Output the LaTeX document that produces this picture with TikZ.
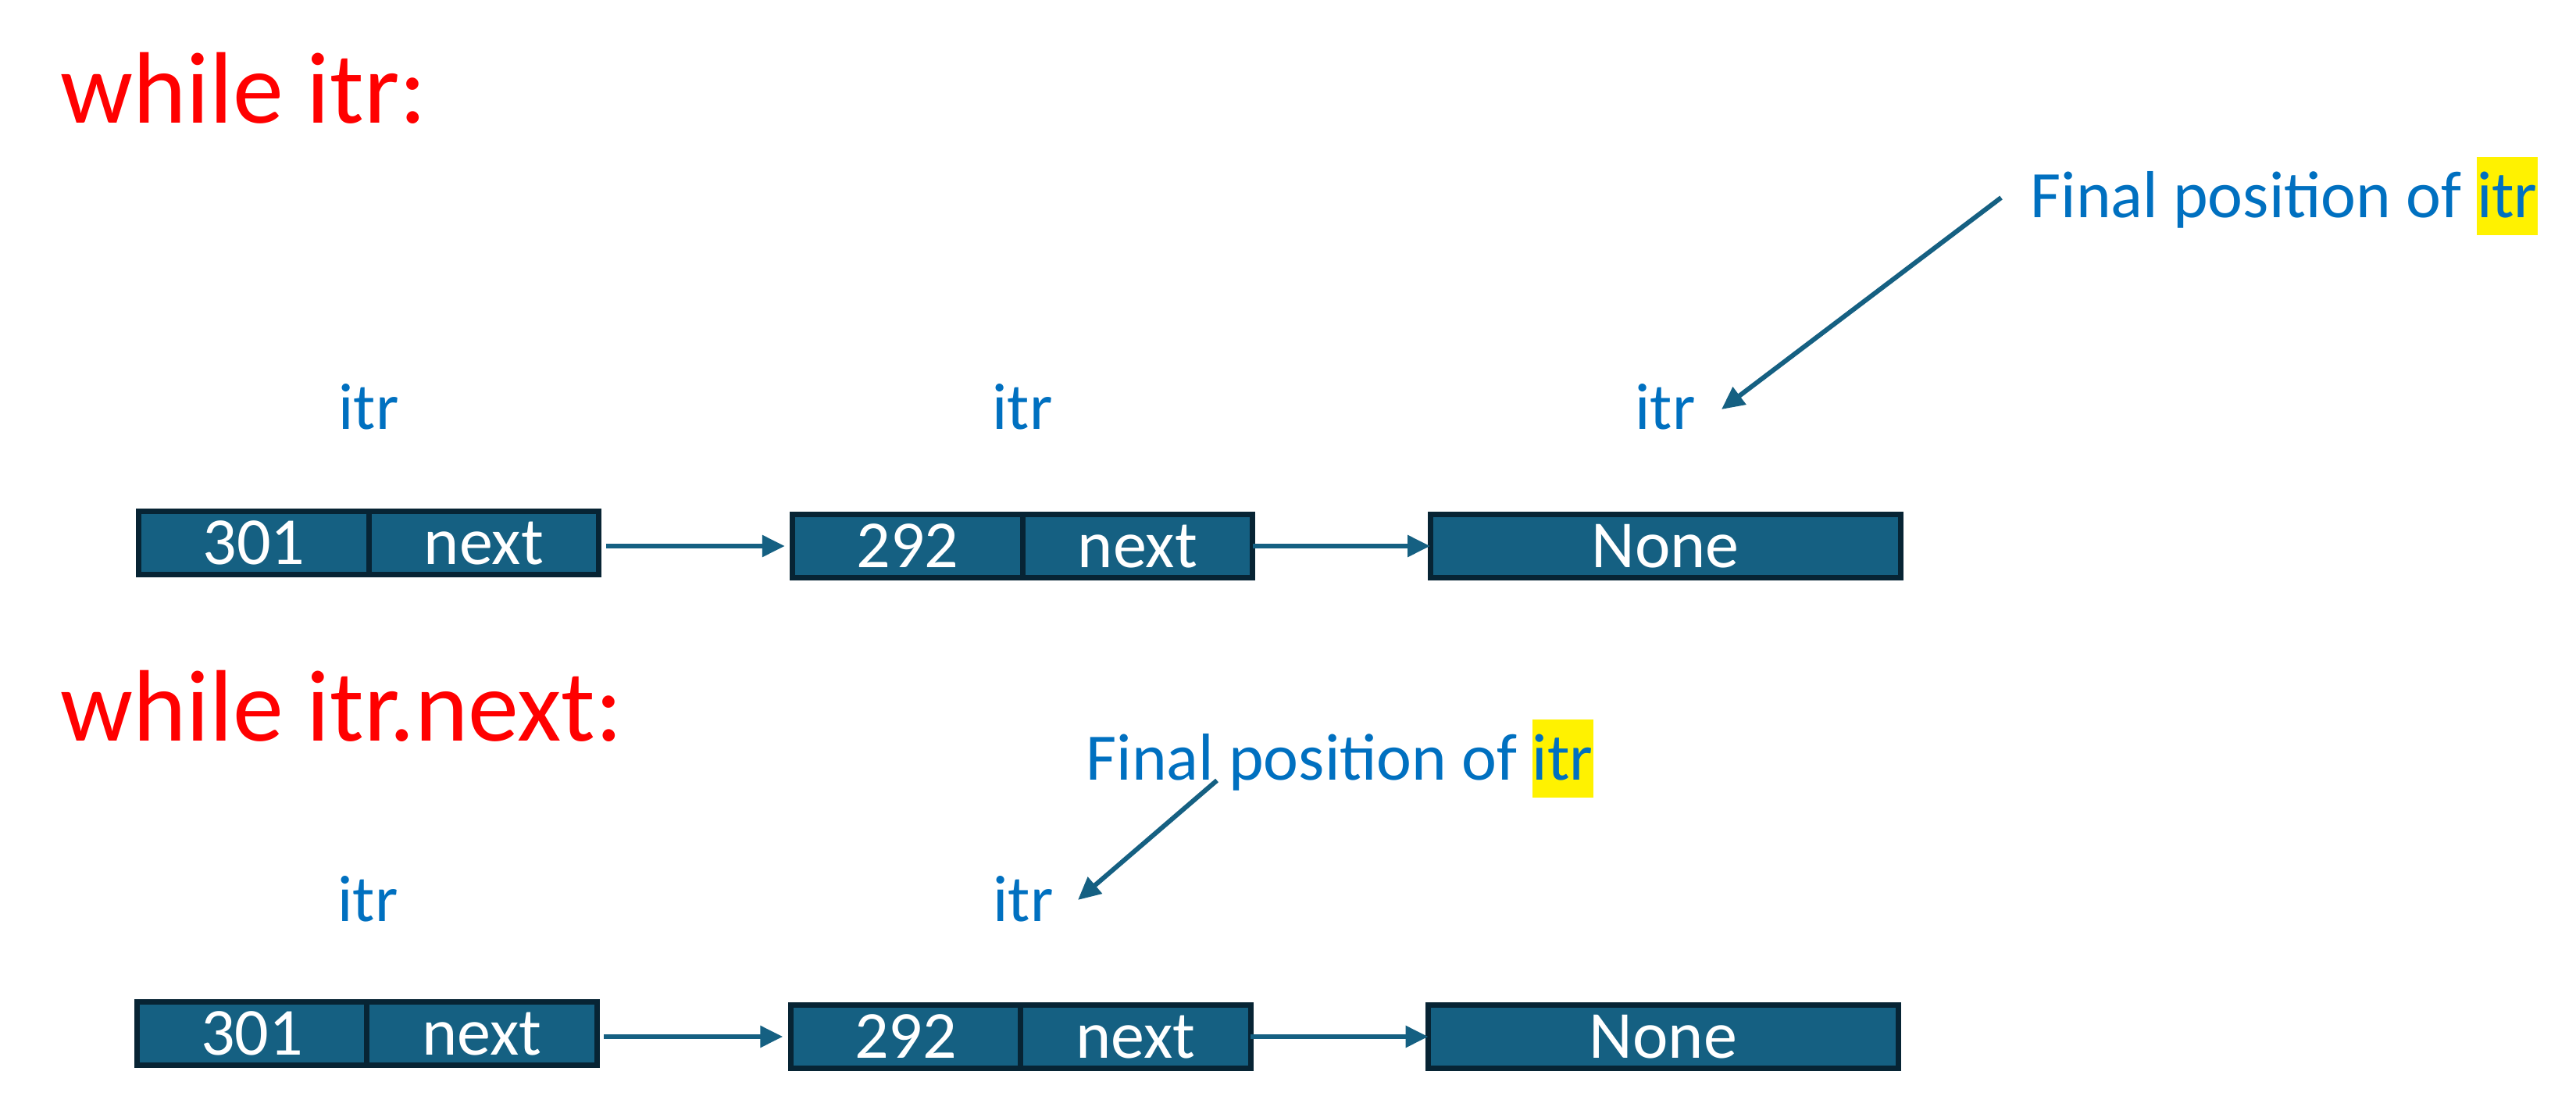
\documentclass[tikz,border=0pt]{standalone}
\usepackage{fontspec}
\setmainfont{Carlito}
\usetikzlibrary{arrows.meta,calc}

\definecolor{cellfill}{HTML}{156082}
\definecolor{cellline}{HTML}{072434}
\definecolor{itrblue}{HTML}{0070C0}

\newcommand{\hlitr}{{\setlength{\fboxsep}{0pt}\colorbox{yellow}{\rule[-6.5pt]{0pt}{28.5pt}itr}}}

\begin{document}
\begin{tikzpicture}[>={Triangle[length=0.29cm,width=0.27cm]},
	cell/.style={draw=cellline,fill=cellfill,line width=0.07cm,inner sep=0pt,outer sep=0pt,
		minimum height=0.81cm,text=white,font=\fontsize{24.5}{29}\selectfont,text height=15.4pt,text depth=0pt},
	half/.style={cell,minimum width=2.945cm},
	whole/.style={cell,minimum width=6.02cm},
	link/.style={->,draw=cellfill,line width=0.06cm},
	cond/.style={text=red,font=\fontsize{37}{44}\selectfont,inner sep=0pt,anchor=base west},
	ptr/.style={text=itrblue,font=\fontsize{24}{29}\selectfont,inner sep=0pt,anchor=base},
	note/.style={text=itrblue,font=\fontsize{24.2}{29}\selectfont,inner sep=0pt,anchor=base west}]

\fill[white] (0,0) rectangle (32.98,-14.26);
\useasboundingbox (0,0) rectangle (32.98,-14.26);

% headings
\node[cond] (head1) at (0.77,-1.57) {while itr:};
\node[cond] (head2) at (0.77,-9.48) {while itr.next:};

% the two lists
\foreach \r/\dx/\dy in {1/0/0,2/-0.025/-6.28}{
	\begin{scope}[shift={(\dx,\dy)}]
	\node[half] (val1-\r) at (3.25,-6.95) {301};
	\node[half] (nxt1-\r) at (6.195,-6.95) {next};
	\node[half] (val2-\r) at (11.62,-6.99) {292};
	\node[half] (nxt2-\r) at (14.565,-6.99) {next};
	\node[whole] (none-\r) at (21.32,-6.99) {None};
	\draw[link,shorten <=0.09cm,shorten >=0.1cm] (nxt1-\r.east |- val2-\r) -- (val2-\r.west);
	\draw[link] (nxt2-\r.east) -- (none-\r.west);
	\end{scope}
}

% itr labels
\node[ptr] (itr1-1) at (4.72,-5.49) {itr};
\node[ptr] (itr2-1) at (13.09,-5.49) {itr};
\node[ptr] (itr3-1) at (21.32,-5.49) {itr};
\node[ptr] (itr1-2) at (4.71,-11.79) {itr};
\node[ptr] (itr2-2) at (13.10,-11.79) {itr};

% final positions
\node[note] (fin1) at (25.99,-2.78) {Final position of \hlitr};
\node[note] (fin2) at (13.90,-9.98) {Final position of \hlitr};

\coordinate (from1) at (25.62,-2.53);
\coordinate (to1) at (22.04,-5.24);
\coordinate (from2) at (15.58,-9.99);
\coordinate (to2) at (13.80,-11.52);
\draw[link] (from1) -- (to1);
\draw[link] (from2) -- (to2);

\end{tikzpicture}
\end{document}
